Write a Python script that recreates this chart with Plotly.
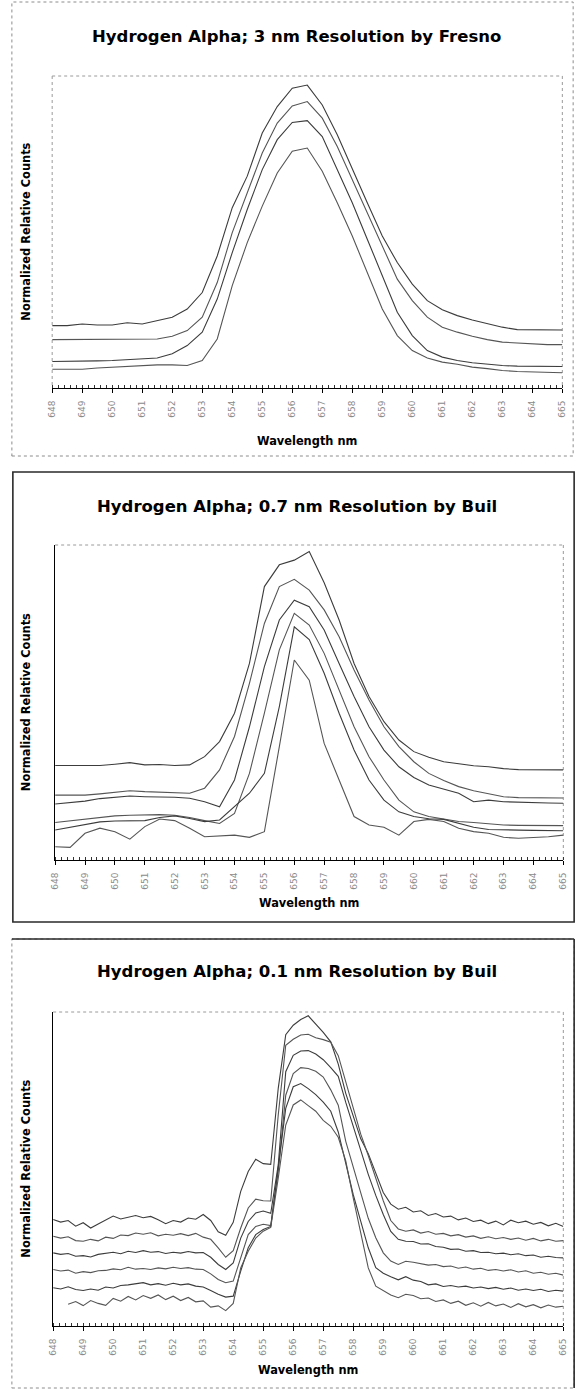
import plotly.graph_objects as go

# ---------------- data ----------------
WAVE_HALF = [648.0, 648.5, 649.0, 649.5, 650.0, 650.5, 651.0, 651.5, 652.0, 652.5,
             653.0, 653.5, 654.0, 654.5, 655.0, 655.5, 656.0, 656.5, 657.0, 657.5,
             658.0, 658.5, 659.0, 659.5, 660.0, 660.5, 661.0, 661.5, 662.0, 662.5,
             663.0, 663.5, 664.0, 664.5, 665.0]

WAVE_QUARTER = [648.00, 648.25, 648.50, 648.75, 649.00, 649.25, 649.50, 649.75, 650.00, 650.25,
                650.50, 650.75, 651.00, 651.25, 651.50, 651.75, 652.00, 652.25, 652.50, 652.75,
                653.00, 653.25, 653.50, 653.75, 654.00, 654.25, 654.50, 654.75, 655.00, 655.25,
                655.50, 655.75, 656.00, 656.25, 656.50, 656.75, 657.00, 657.25, 657.50, 657.75,
                658.00, 658.25, 658.50, 658.75, 659.00, 659.25, 659.50, 659.75, 660.00, 660.25,
                660.50, 660.75, 661.00, 661.25, 661.50, 661.75, 662.00, 662.25, 662.50, 662.75,
                663.00, 663.25, 663.50, 663.75, 664.00, 664.25, 664.50, 664.75, 665.00]

TICK_VALUES = [648, 649, 650, 651, 652, 653, 654, 655, 656, 657, 658, 659, 660, 661, 662, 663, 664, 665]
TICK_LABELS = ["648", "649", "650", "651", "652", "653", "654", "655", "656", "657",
               "658", "659", "660", "661", "662", "663", "664", "665"]

# Panel 1: 3 nm resolution (Fresno)
fresno_a = [0.200, 0.200, 0.205, 0.202, 0.202, 0.209, 0.205, 0.216, 0.227, 0.253, 0.306, 0.423,
            0.578, 0.679, 0.817, 0.902, 0.961, 0.971, 0.907, 0.812, 0.700, 0.594, 0.487, 0.402,
            0.333, 0.280, 0.251, 0.232, 0.218, 0.207, 0.195, 0.187, 0.186, 0.186, 0.186]
fresno_b = [0.155, 0.155, 0.155, 0.155, 0.155, 0.155, 0.155, 0.157, 0.166, 0.184, 0.227, 0.338,
            0.498, 0.626, 0.753, 0.849, 0.904, 0.918, 0.865, 0.774, 0.668, 0.562, 0.455, 0.349,
            0.280, 0.227, 0.195, 0.179, 0.166, 0.155, 0.147, 0.144, 0.141, 0.139, 0.139]
fresno_c = [0.085, 0.085, 0.085, 0.087, 0.088, 0.090, 0.094, 0.096, 0.110, 0.136, 0.179, 0.285,
            0.434, 0.572, 0.700, 0.796, 0.851, 0.857, 0.806, 0.700, 0.594, 0.477, 0.360, 0.243,
            0.168, 0.120, 0.099, 0.088, 0.081, 0.076, 0.072, 0.070, 0.069, 0.069, 0.069]
fresno_d = [0.060, 0.060, 0.060, 0.064, 0.067, 0.070, 0.072, 0.074, 0.074, 0.072, 0.088, 0.157,
            0.328, 0.466, 0.583, 0.689, 0.759, 0.769, 0.695, 0.594, 0.487, 0.370, 0.253, 0.168,
            0.120, 0.096, 0.083, 0.076, 0.067, 0.062, 0.056, 0.053, 0.051, 0.049, 0.049]

# Panel 2: 0.7 nm resolution (Buil)
buil07_a = [0.300, 0.300, 0.300, 0.300, 0.304, 0.309, 0.302, 0.303, 0.300, 0.302, 0.328, 0.376,
            0.466, 0.624, 0.868, 0.937, 0.952, 0.979, 0.880, 0.762, 0.624, 0.519, 0.439, 0.381,
            0.344, 0.326, 0.312, 0.305, 0.299, 0.296, 0.290, 0.287, 0.286, 0.286, 0.286]
buil07_b = [0.206, 0.206, 0.206, 0.210, 0.215, 0.220, 0.217, 0.215, 0.214, 0.212, 0.228, 0.286,
            0.392, 0.561, 0.751, 0.868, 0.891, 0.857, 0.794, 0.709, 0.603, 0.508, 0.423, 0.360,
            0.312, 0.275, 0.252, 0.233, 0.220, 0.210, 0.201, 0.198, 0.197, 0.197, 0.197]
buil07_c = [0.178, 0.182, 0.187, 0.195, 0.199, 0.203, 0.201, 0.201, 0.199, 0.196, 0.185, 0.169,
            0.254, 0.423, 0.614, 0.762, 0.825, 0.804, 0.730, 0.624, 0.519, 0.423, 0.349, 0.296,
            0.262, 0.238, 0.224, 0.212, 0.185, 0.190, 0.185, 0.183, 0.182, 0.181, 0.180]
buil07_d = [0.119, 0.124, 0.129, 0.135, 0.140, 0.142, 0.144, 0.144, 0.142, 0.135, 0.125, 0.116,
            0.148, 0.275, 0.466, 0.667, 0.783, 0.746, 0.656, 0.540, 0.423, 0.328, 0.254, 0.190,
            0.153, 0.138, 0.129, 0.122, 0.119, 0.115, 0.111, 0.110, 0.110, 0.110, 0.109]
buil07_e = [0.095, 0.104, 0.114, 0.121, 0.124, 0.124, 0.125, 0.135, 0.140, 0.132, 0.122, 0.127,
            0.169, 0.212, 0.275, 0.487, 0.740, 0.700, 0.593, 0.466, 0.349, 0.254, 0.190, 0.153,
            0.138, 0.131, 0.129, 0.116, 0.104, 0.097, 0.095, 0.095, 0.094, 0.094, 0.093]
buil07_f = [0.042, 0.040, 0.085, 0.101, 0.090, 0.066, 0.106, 0.130, 0.125, 0.101, 0.074, 0.077,
            0.079, 0.072, 0.090, 0.360, 0.635, 0.571, 0.370, 0.254, 0.138, 0.111, 0.104, 0.079,
            0.122, 0.129, 0.122, 0.101, 0.090, 0.085, 0.072, 0.069, 0.071, 0.074, 0.079]

# Panel 3: 0.1 nm resolution (Buil)
buil01_a = [0.339, 0.331, 0.336, 0.318, 0.329, 0.312, 0.325, 0.338, 0.350, 0.341,
            0.347, 0.352, 0.345, 0.349, 0.338, 0.326, 0.336, 0.331, 0.344, 0.340,
            0.355, 0.336, 0.300, 0.289, 0.330, 0.429, 0.492, 0.531, 0.517, 0.515,
            0.757, 0.928, 0.958, 0.976, 0.988, 0.962, 0.935, 0.905, 0.834, 0.741,
            0.665, 0.596, 0.549, 0.488, 0.425, 0.388, 0.372, 0.378, 0.363, 0.367,
            0.352, 0.358, 0.347, 0.350, 0.338, 0.344, 0.333, 0.337, 0.326, 0.334,
            0.322, 0.337, 0.329, 0.334, 0.324, 0.330, 0.319, 0.327, 0.317]
buil01_b = [0.286, 0.280, 0.284, 0.272, 0.270, 0.276, 0.271, 0.283, 0.279, 0.290,
            0.288, 0.296, 0.292, 0.297, 0.287, 0.292, 0.289, 0.294, 0.288, 0.295,
            0.283, 0.276, 0.249, 0.219, 0.240, 0.312, 0.376, 0.404, 0.399, 0.398,
            0.672, 0.894, 0.913, 0.927, 0.929, 0.918, 0.912, 0.904, 0.861, 0.775,
            0.695, 0.611, 0.543, 0.468, 0.399, 0.336, 0.309, 0.302, 0.306, 0.296,
            0.301, 0.292, 0.295, 0.287, 0.291, 0.283, 0.287, 0.279, 0.284, 0.278,
            0.282, 0.276, 0.280, 0.273, 0.279, 0.271, 0.276, 0.270, 0.272]
buil01_c = [0.233, 0.228, 0.231, 0.222, 0.224, 0.220, 0.228, 0.231, 0.235, 0.230,
            0.238, 0.234, 0.240, 0.235, 0.237, 0.231, 0.235, 0.232, 0.237, 0.233,
            0.234, 0.219, 0.196, 0.180, 0.201, 0.280, 0.333, 0.360, 0.366, 0.359,
            0.513, 0.810, 0.862, 0.876, 0.877, 0.866, 0.848, 0.823, 0.795, 0.712,
            0.636, 0.554, 0.483, 0.416, 0.355, 0.301, 0.276, 0.270, 0.269, 0.261,
            0.262, 0.253, 0.251, 0.244, 0.245, 0.238, 0.240, 0.234, 0.235, 0.230,
            0.232, 0.227, 0.230, 0.224, 0.226, 0.219, 0.222, 0.218, 0.217]
buil01_d = [0.180, 0.175, 0.178, 0.168, 0.173, 0.170, 0.176, 0.177, 0.182, 0.179,
            0.187, 0.181, 0.183, 0.180, 0.185, 0.182, 0.187, 0.183, 0.186, 0.181,
            0.180, 0.166, 0.148, 0.138, 0.143, 0.217, 0.291, 0.317, 0.324, 0.320,
            0.492, 0.735, 0.804, 0.823, 0.820, 0.811, 0.793, 0.752, 0.703, 0.588,
            0.503, 0.424, 0.343, 0.281, 0.233, 0.207, 0.196, 0.206, 0.203, 0.199,
            0.194, 0.196, 0.189, 0.191, 0.184, 0.188, 0.181, 0.184, 0.177, 0.180,
            0.175, 0.179, 0.172, 0.176, 0.168, 0.171, 0.165, 0.168, 0.162]
buil01_e = [0.122, 0.118, 0.125, 0.116, 0.113, 0.118, 0.114, 0.124, 0.121, 0.129,
            0.131, 0.135, 0.138, 0.131, 0.135, 0.130, 0.136, 0.131, 0.134, 0.127,
            0.124, 0.113, 0.101, 0.092, 0.095, 0.175, 0.249, 0.291, 0.307, 0.317,
            0.513, 0.693, 0.762, 0.772, 0.756, 0.737, 0.713, 0.684, 0.618, 0.514,
            0.418, 0.333, 0.249, 0.186, 0.168, 0.157, 0.147, 0.157, 0.146, 0.142,
            0.131, 0.134, 0.126, 0.129, 0.124, 0.127, 0.121, 0.124, 0.119, 0.123,
            0.117, 0.121, 0.114, 0.118, 0.113, 0.117, 0.110, 0.114, 0.111]
buil01_f = [None, None, 0.069, 0.078, 0.065, 0.081, 0.072, 0.066, 0.088, 0.079,
            0.094, 0.083, 0.097, 0.088, 0.099, 0.084, 0.095, 0.081, 0.091, 0.077,
            0.080, 0.060, 0.064, 0.049, 0.072, 0.185, 0.238, 0.280, 0.302, 0.314,
            0.471, 0.640, 0.704, 0.720, 0.702, 0.684, 0.655, 0.636, 0.601, 0.526,
            0.407, 0.291, 0.185, 0.127, 0.113, 0.099, 0.090, 0.101, 0.097, 0.087,
            0.089, 0.078, 0.083, 0.072, 0.079, 0.066, 0.074, 0.063, 0.075, 0.064,
            0.070, 0.059, 0.071, 0.061, 0.068, 0.058, 0.067, 0.060, 0.063]

TITLES = ["Hydrogen Alpha; 3 nm Resolution by Fresno",
          "Hydrogen Alpha; 0.7 nm Resolution by Buil",
          "Hydrogen Alpha; 0.1 nm Resolution by Buil"]
X_TITLE = "Wavelength nm"
Y_TITLE = "Normalized Relative Counts"

# ---------------- layout helpers ----------------
W, H = 587, 1389
FONT = "Liberation Sans, Arial, sans-serif"
WIDE = "DejaVu Sans, Verdana, sans-serif"


def px(x):
    return x / W


def py(y):
    return 1 - y / H


# plot-area pixel boxes (left, right, top, bottom) and panel text positions
PANELS = [
    dict(box=(48, 567, 76, 388), title_y=36, xt_y=441, frame=(7, 2, 578, 456)),
    dict(box=(51, 568, 545, 860), title_y=506, xt_y=903, frame=(8, 472, 579, 922)),
    dict(box=(49, 568, 1012, 1326), title_y=971, xt_y=1370, frame=(7, 939, 579, 1388)),
]

SERIES = [
    (WAVE_HALF, [fresno_a, fresno_b, fresno_c, fresno_d]),
    (WAVE_HALF, [buil07_a, buil07_b, buil07_c, buil07_d, buil07_e, buil07_f]),
    (WAVE_QUARTER, [buil01_a, buil01_b, buil01_c, buil01_d, buil01_e, buil01_f]),
]

LINE_COLORS = ["#3c3c3c", "#555555", "#3c3c3c", "#555555", "#3c3c3c", "#555555"]

fig = go.Figure()
layout = dict(
    width=W, height=H,
    margin=dict(l=0, r=0, t=0, b=0),
    paper_bgcolor="white", plot_bgcolor="white",
    showlegend=False,
    font=dict(family=FONT, color="#000"),
)
annotations = []
shapes = []

for i, (panel, (xs, ys_list)) in enumerate(zip(PANELS, SERIES)):
    n = "" if i == 0 else str(i + 1)
    xa, ya = "x" + n, "y" + n
    l, r, t, b = panel["box"]
    for j, ys in enumerate(ys_list):
        fig.add_trace(go.Scatter(
            x=xs, y=ys, xaxis=xa, yaxis=ya, mode="lines",
            line=dict(color=LINE_COLORS[j], width=1.1),
            connectgaps=False, hoverinfo="skip"))

    left_solid = i > 0
    layout["xaxis" + n] = dict(
        domain=[px(l), px(r)], anchor=ya, range=[648, 665],
        tickmode="array", tickvals=TICK_VALUES, ticktext=TICK_LABELS,
        tickangle=-90, ticks="outside", ticklen=4, tickwidth=1, tickcolor="#000",
        minor=dict(tickmode="linear", tick0=648, dtick=0.2, ticks="inside",
                   ticklen=3, tickcolor="#333", showgrid=False),
        showline=True, linecolor="#000", linewidth=1,
        showgrid=False, zeroline=False, fixedrange=True,
        tickfont=dict(family=WIDE, size=9, color="#8a8a8a"),
        ticklabelstandoff=4,
    )
    layout["yaxis" + n] = dict(
        domain=[py(b), py(t)], anchor=xa, range=[0, 1], fixedrange=True,
        showticklabels=False, ticks="", showgrid=False, zeroline=False,
        showline=left_solid, linecolor="#000", linewidth=1,
    )

    dot = dict(color="#9a9a9a", width=1, dash="dot")
    shapes.append(dict(type="line", xref="paper", yref="paper",
                       x0=px(l), x1=px(r), y0=py(t), y1=py(t), line=dot, layer="below"))
    shapes.append(dict(type="line", xref="paper", yref="paper",
                       x0=px(r), x1=px(r), y0=py(t), y1=py(b), line=dot, layer="below"))
    if not left_solid:
        shapes.append(dict(type="line", xref="paper", yref="paper",
                           x0=px(l), x1=px(l), y0=py(t), y1=py(b), line=dot, layer="below"))

    fx0, fy0, fx1, fy1 = panel["frame"]
    if i == 0:
        shapes.append(dict(type="rect", xref="paper", yref="paper",
                           x0=px(fx0), x1=px(fx1), y0=py(fy1), y1=py(fy0),
                           line=dict(color="#8c8c8c", width=1, dash="dot")))
    elif i == 1:
        shapes.append(dict(type="rect", xref="paper", yref="paper",
                           x0=px(fx0), x1=px(fx1), y0=py(fy1), y1=py(fy0),
                           line=dict(color="#2a2a2a", width=1.6)))
    else:
        shapes.append(dict(type="rect", xref="paper", yref="paper",
                           x0=px(fx0), x1=px(fx1), y0=py(fy1), y1=py(fy0),
                           line=dict(color="#8c8c8c", width=1, dash="dot")))
        shapes.append(dict(type="line", xref="paper", yref="paper",
                           x0=px(fx0), x1=px(fx1), y0=py(fy0), y1=py(fy0),
                           line=dict(color="#2a2a2a", width=1.6)))
        shapes.append(dict(type="line", xref="paper", yref="paper",
                           x0=px(fx1), x1=px(fx1), y0=py(fy1), y1=py(fy0),
                           line=dict(color="#2a2a2a", width=1.6)))

    annotations.append(dict(text="<b>" + TITLES[i] + "</b>", xref="paper", yref="paper",
                            x=px((fx0 + fx1) / 2 + 4), y=py(panel["title_y"]),
                            xanchor="center", yanchor="middle", showarrow=False,
                            font=dict(family=WIDE, size=16.5, color="#000")))
    annotations.append(dict(text="<b>" + X_TITLE + "</b>", xref="paper", yref="paper",
                            x=px((l + r) / 2), y=py(panel["xt_y"]),
                            xanchor="center", yanchor="middle", showarrow=False,
                            font=dict(family=WIDE, size=11.4, color="#000")))
    annotations.append(dict(text="<b>" + Y_TITLE + "</b>", xref="paper", yref="paper",
                            x=px(21), y=py((t + b) / 2), textangle=-90,
                            xanchor="center", yanchor="middle", showarrow=False,
                            font=dict(family=WIDE, size=11.4, color="#000")))

layout["annotations"] = annotations
layout["shapes"] = shapes
fig.update_layout(**layout)
fig.write_html("out.html",
               config={"displayModeBar": False, "staticPlot": True},
               post_script="document.body.style.margin='0px';document.body.style.overflow='hidden';")
